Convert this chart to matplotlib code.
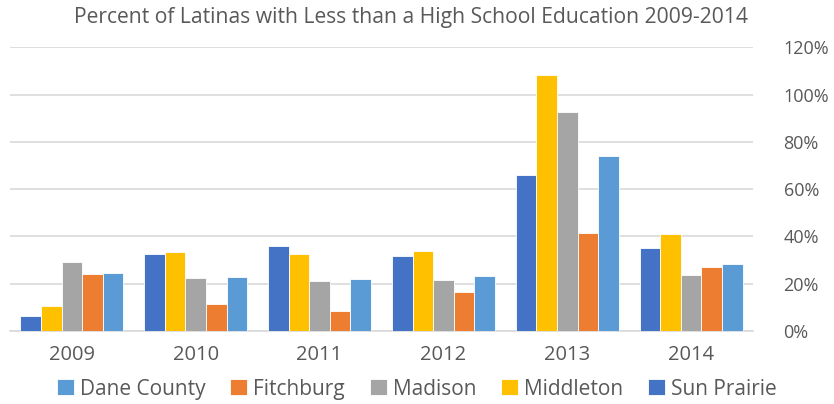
import matplotlib.pyplot as plt
import numpy as np
from matplotlib.ticker import PercentFormatter

plt.rcParams['font.family'] = ['Open Sans', 'DejaVu Sans']

years = ['2009', '2010', '2011', '2012', '2013', '2014']

# values in percent
sun_prairie = [6.5, 32.5, 35.8, 31.7, 65.8, 34.9]
middleton = [10.6, 33.4, 32.5, 33.8, 108.3, 41.0]
madison = [29.0, 22.3, 21.0, 21.7, 92.7, 23.7]
fitchburg = [24.2, 11.3, 8.5, 16.5, 41.3, 26.9]
dane_county = [24.5, 22.7, 22.0, 23.4, 74.1, 28.2]

# drawing order left->right within a group
series = [('Sun Prairie', sun_prairie, '#4472C4'),
          ('Middleton', middleton, '#FFC000'),
          ('Madison', madison, '#A5A5A5'),
          ('Fitchburg', fitchburg, '#ED7D31'),
          ('Dane County', dane_county, '#5B9BD5')]

fig = plt.figure(figsize=(8.34, 4.04), dpi=100)
ax = fig.add_axes([10/834, 1-331/404, 743/834, (331-47.3)/404])

x = np.arange(len(years))
w = 0.1664
handles = {}
for i, (name, vals, col) in enumerate(series):
    b = ax.bar(x + (i - 2) * w, vals, w, color=col, edgecolor='white',
               linewidth=0.6, label=name, zorder=3)
    handles[name] = b

ax.set_xlim(-0.5, 5.5)
ax.set_ylim(0, 120)
ax.set_yticks(range(0, 121, 20))
ax.yaxis.set_major_formatter(PercentFormatter(decimals=0))
ax.yaxis.tick_right()
ax.grid(axis='y', color='#D9D9D9', linewidth=1.2, zorder=0)
for s in ['top', 'left', 'right']:
    ax.spines[s].set_visible(False)
ax.spines['bottom'].set_color('#D9D9D9')
ax.spines['bottom'].set_linewidth(1.2)
ax.set_xticks(x)
ax.set_xticklabels(years)
ax.tick_params(axis='both', length=0, labelcolor='#595959')
ax.tick_params(axis='x', pad=10, labelsize=14.5)
ax.tick_params(axis='y', pad=22, labelsize=13)
for lab in ax.get_yticklabels():
    lab.set_horizontalalignment('left')

fig.text(0.493, 0.957, 'Percent of Latinas with Less than a High School Education 2009-2014',
         ha='center', va='center', fontsize=15.2, color='#595959')

order = ['Dane County', 'Fitchburg', 'Madison', 'Middleton', 'Sun Prairie']
leg = fig.legend([handles[n] for n in order], order, loc='center',
                 bbox_to_anchor=(0.5, 0.037), ncol=5, frameon=False,
                 fontsize=15, handlelength=0.8, handleheight=0.8,
                 handletextpad=0.3, columnspacing=1.2, borderpad=0)
for t in leg.get_texts():
    t.set_color('#595959')

fig.savefig('out.png', dpi=100)
